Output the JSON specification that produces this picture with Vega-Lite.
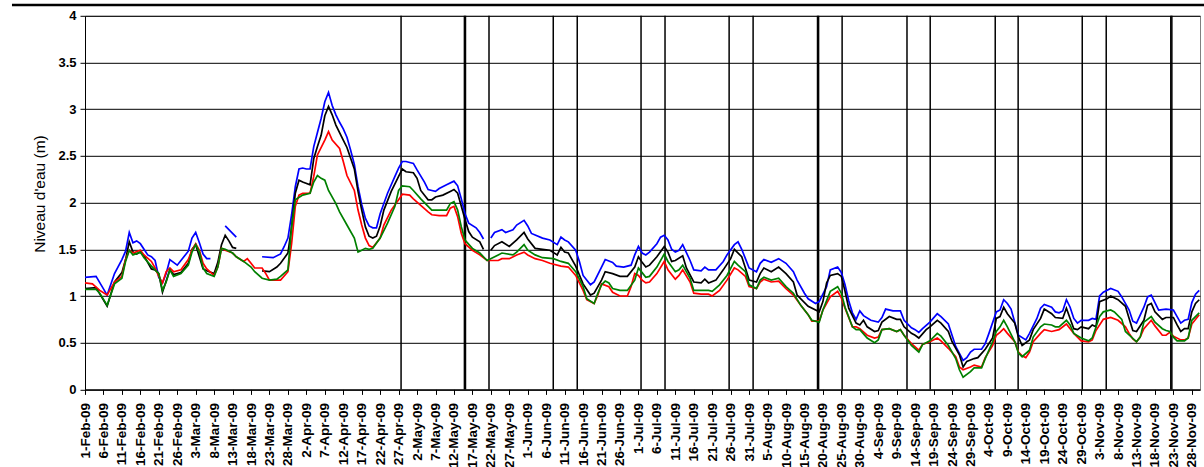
{
"$schema":"https://vega.github.io/schema/vega-lite/v6.json",
"width":1115,"height":373.6,
"autosize":{"type":"none"},
"padding":{"left":85,"top":15.8,"right":4,"bottom":77.6},
"background":"white",
"config":{"view":{"stroke":"#808080","strokeWidth":1},"font":"Liberation Sans"},
"resolve":{"axis":{"x":"independent","y":"independent"}},
"datasets":{
"blue":[
{"d":"2009-02-01","v":1.20},{"d":"2009-02-04","v":1.21},{"d":"2009-02-07","v":1.01},{"d":"2009-02-09","v":1.24},{"d":"2009-02-11","v":1.39},{"d":"2009-02-12","v":1.48},{"d":"2009-02-13","v":1.68},{"d":"2009-02-14","v":1.57},{"d":"2009-02-15","v":1.59},{"d":"2009-02-16","v":1.56},{"d":"2009-02-18","v":1.44},{"d":"2009-02-19","v":1.42},{"d":"2009-02-20","v":1.38},{"d":"2009-02-21","v":1.20},{"d":"2009-02-22","v":1.14},{"d":"2009-02-23","v":1.24},{"d":"2009-02-24","v":1.39},{"d":"2009-02-25","v":1.36},{"d":"2009-02-26","v":1.33},{"d":"2009-02-27","v":1.38},
{"d":"2009-03-01","v":1.48},{"d":"2009-03-02","v":1.62},{"d":"2009-03-03","v":1.68},{"d":"2009-03-04","v":1.57},{"d":"2009-03-05","v":1.45},{"d":"2009-03-06","v":1.40},{"d":"2009-03-07","v":1.40},{"d":"2009-03-09","v":null},{"d":"2009-03-11","v":1.75},{"d":"2009-03-12","v":1.71},{"d":"2009-03-13","v":1.67},{"d":"2009-03-14","v":1.63},{"d":"2009-03-18","v":null},{"d":"2009-03-21","v":1.42},{"d":"2009-03-24","v":1.41},{"d":"2009-03-26","v":1.45},{"d":"2009-03-27","v":1.53},{"d":"2009-03-28","v":1.62},{"d":"2009-03-29","v":1.87},{"d":"2009-03-30","v":2.17},{"d":"2009-03-31","v":2.36},
{"d":"2009-04-01","v":2.37},{"d":"2009-04-02","v":2.36},{"d":"2009-04-03","v":2.36},{"d":"2009-04-04","v":2.60},{"d":"2009-04-05","v":2.75},{"d":"2009-04-06","v":2.90},{"d":"2009-04-07","v":3.08},{"d":"2009-04-08","v":3.18},{"d":"2009-04-09","v":3.04},{"d":"2009-04-10","v":2.94},{"d":"2009-04-11","v":2.86},{"d":"2009-04-12","v":2.79},{"d":"2009-04-13","v":2.70},{"d":"2009-04-14","v":2.56},{"d":"2009-04-15","v":2.41},{"d":"2009-04-16","v":2.17},{"d":"2009-04-17","v":1.98},{"d":"2009-04-18","v":1.83},{"d":"2009-04-19","v":1.75},{"d":"2009-04-20","v":1.73},{"d":"2009-04-21","v":1.73},{"d":"2009-04-22","v":1.88},{"d":"2009-04-24","v":2.10},{"d":"2009-04-26","v":2.28},{"d":"2009-04-27","v":2.37},{"d":"2009-04-28","v":2.44},{"d":"2009-04-29","v":2.44},
{"d":"2009-05-01","v":2.42},{"d":"2009-05-02","v":2.35},{"d":"2009-05-04","v":2.22},{"d":"2009-05-05","v":2.14},{"d":"2009-05-06","v":2.13},{"d":"2009-05-07","v":2.12},{"d":"2009-05-08","v":2.15},{"d":"2009-05-10","v":2.19},{"d":"2009-05-12","v":2.23},{"d":"2009-05-13","v":2.18},{"d":"2009-05-14","v":2.04},{"d":"2009-05-15","v":1.88},{"d":"2009-05-16","v":1.78},{"d":"2009-05-18","v":1.73},{"d":"2009-05-19","v":1.68},{"d":"2009-05-20","v":1.61},{"d":"2009-05-21","v":null},{"d":"2009-05-22","v":1.62},{"d":"2009-05-23","v":1.68},{"d":"2009-05-25","v":1.71},{"d":"2009-05-26","v":1.68},{"d":"2009-05-28","v":1.71},{"d":"2009-05-29","v":1.76},{"d":"2009-05-31","v":1.81},
{"d":"2009-06-01","v":1.75},{"d":"2009-06-02","v":1.67},{"d":"2009-06-05","v":1.62},{"d":"2009-06-07","v":1.60},{"d":"2009-06-09","v":1.55},{"d":"2009-06-10","v":1.63},{"d":"2009-06-11","v":1.60},{"d":"2009-06-12","v":1.58},{"d":"2009-06-14","v":1.49},{"d":"2009-06-15","v":1.37},{"d":"2009-06-16","v":1.22},{"d":"2009-06-18","v":1.12},{"d":"2009-06-19","v":1.15},{"d":"2009-06-21","v":1.31},{"d":"2009-06-22","v":1.39},{"d":"2009-06-24","v":1.36},{"d":"2009-06-25","v":1.32},{"d":"2009-06-27","v":1.31},{"d":"2009-06-29","v":1.33},{"d":"2009-06-30","v":1.44},
{"d":"2009-07-01","v":1.53},{"d":"2009-07-02","v":1.46},{"d":"2009-07-03","v":1.44},{"d":"2009-07-04","v":1.47},{"d":"2009-07-06","v":1.56},{"d":"2009-07-07","v":1.63},{"d":"2009-07-08","v":1.65},{"d":"2009-07-09","v":1.60},{"d":"2009-07-10","v":1.50},{"d":"2009-07-11","v":1.47},{"d":"2009-07-12","v":1.49},{"d":"2009-07-13","v":1.55},{"d":"2009-07-15","v":1.38},{"d":"2009-07-16","v":1.28},{"d":"2009-07-18","v":1.27},{"d":"2009-07-19","v":1.31},{"d":"2009-07-20","v":1.28},{"d":"2009-07-22","v":1.28},{"d":"2009-07-24","v":1.37},{"d":"2009-07-25","v":1.44},{"d":"2009-07-27","v":1.55},{"d":"2009-07-28","v":1.58},{"d":"2009-07-29","v":1.50},{"d":"2009-07-30","v":1.40},{"d":"2009-07-31","v":1.30},
{"d":"2009-08-02","v":1.26},{"d":"2009-08-03","v":1.35},{"d":"2009-08-04","v":1.39},{"d":"2009-08-06","v":1.36},{"d":"2009-08-08","v":1.40},{"d":"2009-08-10","v":1.35},{"d":"2009-08-12","v":1.26},{"d":"2009-08-13","v":1.17},{"d":"2009-08-15","v":1.03},{"d":"2009-08-16","v":0.97},{"d":"2009-08-18","v":0.92},{"d":"2009-08-19","v":0.94},{"d":"2009-08-21","v":1.10},{"d":"2009-08-22","v":1.28},{"d":"2009-08-24","v":1.31},{"d":"2009-08-25","v":1.25},{"d":"2009-08-26","v":1.12},{"d":"2009-08-27","v":0.95},{"d":"2009-08-28","v":0.82},{"d":"2009-08-29","v":0.75},{"d":"2009-08-30","v":0.84},{"d":"2009-08-31","v":0.79},
{"d":"2009-09-02","v":0.74},{"d":"2009-09-04","v":0.72},{"d":"2009-09-05","v":0.77},{"d":"2009-09-06","v":0.86},{"d":"2009-09-08","v":0.84},{"d":"2009-09-10","v":0.84},{"d":"2009-09-11","v":0.74},{"d":"2009-09-13","v":0.66},{"d":"2009-09-14","v":0.64},{"d":"2009-09-15","v":0.61},{"d":"2009-09-16","v":0.65},{"d":"2009-09-18","v":0.72},{"d":"2009-09-20","v":0.81},{"d":"2009-09-21","v":0.78},{"d":"2009-09-23","v":0.70},{"d":"2009-09-24","v":0.58},{"d":"2009-09-25","v":0.46},{"d":"2009-09-27","v":0.31},{"d":"2009-09-28","v":0.34},{"d":"2009-09-29","v":0.40},{"d":"2009-09-30","v":0.43},
{"d":"2009-10-02","v":0.43},{"d":"2009-10-03","v":0.49},{"d":"2009-10-04","v":0.60},{"d":"2009-10-06","v":0.83},{"d":"2009-10-07","v":0.85},{"d":"2009-10-08","v":0.96},{"d":"2009-10-09","v":0.92},{"d":"2009-10-10","v":0.86},{"d":"2009-10-11","v":0.72},{"d":"2009-10-12","v":0.58},{"d":"2009-10-14","v":0.53},{"d":"2009-10-15","v":0.60},{"d":"2009-10-17","v":0.76},{"d":"2009-10-18","v":0.87},{"d":"2009-10-19","v":0.91},{"d":"2009-10-21","v":0.88},{"d":"2009-10-22","v":0.83},{"d":"2009-10-23","v":0.82},{"d":"2009-10-24","v":0.84},{"d":"2009-10-25","v":0.96},{"d":"2009-10-26","v":0.88},{"d":"2009-10-27","v":0.76},{"d":"2009-10-28","v":0.71},{"d":"2009-10-29","v":0.74},{"d":"2009-10-31","v":0.74},
{"d":"2009-11-01","v":0.76},{"d":"2009-11-02","v":0.75},{"d":"2009-11-03","v":1.00},{"d":"2009-11-04","v":1.04},{"d":"2009-11-06","v":1.08},{"d":"2009-11-08","v":1.05},{"d":"2009-11-09","v":0.99},{"d":"2009-11-11","v":0.85},{"d":"2009-11-12","v":0.73},{"d":"2009-11-13","v":0.71},{"d":"2009-11-15","v":0.88},{"d":"2009-11-16","v":0.99},{"d":"2009-11-17","v":1.01},{"d":"2009-11-18","v":0.93},{"d":"2009-11-19","v":0.85},{"d":"2009-11-21","v":0.86},{"d":"2009-11-23","v":0.85},{"d":"2009-11-24","v":0.78},{"d":"2009-11-25","v":0.71},{"d":"2009-11-26","v":0.74},{"d":"2009-11-27","v":0.75},{"d":"2009-11-28","v":0.93},{"d":"2009-11-29","v":1.02},{"d":"2009-11-30","v":1.06}
],
"black":[
{"d":"2009-02-01","v":1.08},{"d":"2009-02-04","v":1.09},{"d":"2009-02-07","v":0.89},{"d":"2009-02-09","v":1.15},{"d":"2009-02-11","v":1.25},{"d":"2009-02-12","v":1.39},{"d":"2009-02-13","v":1.58},{"d":"2009-02-14","v":1.47},{"d":"2009-02-15","v":1.45},{"d":"2009-02-16","v":1.47},{"d":"2009-02-17","v":1.43},{"d":"2009-02-19","v":1.29},{"d":"2009-02-20","v":1.28},{"d":"2009-02-21","v":1.24},{"d":"2009-02-22","v":1.04},{"d":"2009-02-23","v":1.16},{"d":"2009-02-24","v":1.28},{"d":"2009-02-25","v":1.23},{"d":"2009-02-27","v":1.25},
{"d":"2009-03-01","v":1.35},{"d":"2009-03-02","v":1.50},{"d":"2009-03-03","v":1.55},{"d":"2009-03-04","v":1.42},{"d":"2009-03-05","v":1.29},{"d":"2009-03-06","v":1.27},{"d":"2009-03-08","v":1.24},{"d":"2009-03-09","v":1.36},{"d":"2009-03-10","v":1.55},{"d":"2009-03-11","v":1.65},{"d":"2009-03-12","v":1.59},{"d":"2009-03-13","v":1.52},{"d":"2009-03-14","v":1.51},{"d":"2009-03-18","v":null},{"d":"2009-03-21","v":1.27},{"d":"2009-03-23","v":1.26},{"d":"2009-03-25","v":1.31},{"d":"2009-03-26","v":1.35},{"d":"2009-03-28","v":1.46},{"d":"2009-03-29","v":1.74},{"d":"2009-03-30","v":2.10},{"d":"2009-03-31","v":2.24},
{"d":"2009-04-01","v":2.22},{"d":"2009-04-03","v":2.19},{"d":"2009-04-04","v":2.47},{"d":"2009-04-05","v":2.60},{"d":"2009-04-06","v":2.72},{"d":"2009-04-07","v":2.93},{"d":"2009-04-08","v":3.03},{"d":"2009-04-09","v":2.94},{"d":"2009-04-10","v":2.83},{"d":"2009-04-12","v":2.67},{"d":"2009-04-13","v":2.59},{"d":"2009-04-15","v":2.36},{"d":"2009-04-16","v":2.12},{"d":"2009-04-17","v":1.92},{"d":"2009-04-18","v":1.74},{"d":"2009-04-19","v":1.64},{"d":"2009-04-20","v":1.62},{"d":"2009-04-21","v":1.64},{"d":"2009-04-22","v":1.75},{"d":"2009-04-23","v":1.92},{"d":"2009-04-25","v":2.12},{"d":"2009-04-27","v":2.28},{"d":"2009-04-28","v":2.36},{"d":"2009-04-29","v":2.33},
{"d":"2009-05-01","v":2.32},{"d":"2009-05-02","v":2.26},{"d":"2009-05-03","v":2.13},{"d":"2009-05-05","v":2.03},{"d":"2009-05-06","v":2.03},{"d":"2009-05-07","v":2.06},{"d":"2009-05-09","v":2.08},{"d":"2009-05-11","v":2.12},{"d":"2009-05-12","v":2.14},{"d":"2009-05-13","v":2.10},{"d":"2009-05-14","v":1.96},{"d":"2009-05-15","v":1.82},{"d":"2009-05-16","v":1.69},{"d":"2009-05-17","v":1.63},{"d":"2009-05-19","v":1.58},{"d":"2009-05-20","v":1.50},{"d":"2009-05-21","v":null},{"d":"2009-05-22","v":1.49},{"d":"2009-05-23","v":1.54},{"d":"2009-05-25","v":1.58},{"d":"2009-05-27","v":1.53},{"d":"2009-05-29","v":1.60},{"d":"2009-05-31","v":1.68},
{"d":"2009-06-01","v":1.61},{"d":"2009-06-03","v":1.51},{"d":"2009-06-05","v":1.50},{"d":"2009-06-07","v":1.49},{"d":"2009-06-09","v":1.44},{"d":"2009-06-10","v":1.52},{"d":"2009-06-11","v":1.47},{"d":"2009-06-12","v":1.46},{"d":"2009-06-14","v":1.32},{"d":"2009-06-16","v":1.13},{"d":"2009-06-18","v":1.01},{"d":"2009-06-19","v":1.03},{"d":"2009-06-21","v":1.17},{"d":"2009-06-22","v":1.26},{"d":"2009-06-24","v":1.24},{"d":"2009-06-26","v":1.21},{"d":"2009-06-28","v":1.21},{"d":"2009-06-30","v":1.31},
{"d":"2009-07-01","v":1.42},{"d":"2009-07-02","v":1.36},{"d":"2009-07-03","v":1.31},{"d":"2009-07-04","v":1.33},{"d":"2009-07-06","v":1.42},{"d":"2009-07-08","v":1.53},{"d":"2009-07-09","v":1.47},{"d":"2009-07-10","v":1.37},{"d":"2009-07-11","v":1.38},{"d":"2009-07-13","v":1.43},{"d":"2009-07-14","v":1.30},{"d":"2009-07-16","v":1.15},{"d":"2009-07-18","v":1.14},{"d":"2009-07-19","v":1.18},{"d":"2009-07-20","v":1.14},{"d":"2009-07-22","v":1.17},{"d":"2009-07-24","v":1.28},{"d":"2009-07-26","v":1.40},{"d":"2009-07-27","v":1.50},{"d":"2009-07-29","v":1.42},{"d":"2009-07-30","v":1.30},{"d":"2009-07-31","v":1.17},
{"d":"2009-08-02","v":1.15},{"d":"2009-08-03","v":1.24},{"d":"2009-08-04","v":1.30},{"d":"2009-08-06","v":1.26},{"d":"2009-08-08","v":1.31},{"d":"2009-08-10","v":1.24},{"d":"2009-08-12","v":1.15},{"d":"2009-08-13","v":1.01},{"d":"2009-08-16","v":0.89},{"d":"2009-08-19","v":0.83},{"d":"2009-08-20","v":0.94},{"d":"2009-08-21","v":1.14},{"d":"2009-08-22","v":1.22},{"d":"2009-08-24","v":1.24},{"d":"2009-08-25","v":1.21},{"d":"2009-08-26","v":1.05},{"d":"2009-08-27","v":0.87},{"d":"2009-08-29","v":0.71},{"d":"2009-08-30","v":0.69},{"d":"2009-08-31","v":0.74},
{"d":"2009-09-01","v":0.67},{"d":"2009-09-03","v":0.62},{"d":"2009-09-04","v":0.63},{"d":"2009-09-05","v":0.72},{"d":"2009-09-07","v":0.78},{"d":"2009-09-09","v":0.75},{"d":"2009-09-10","v":0.75},{"d":"2009-09-11","v":0.67},{"d":"2009-09-13","v":0.60},{"d":"2009-09-14","v":0.58},{"d":"2009-09-15","v":0.55},{"d":"2009-09-17","v":0.64},{"d":"2009-09-18","v":0.67},{"d":"2009-09-20","v":0.74},{"d":"2009-09-21","v":0.71},{"d":"2009-09-23","v":0.62},{"d":"2009-09-24","v":0.51},{"d":"2009-09-26","v":0.37},{"d":"2009-09-27","v":0.24},{"d":"2009-09-28","v":0.30},{"d":"2009-09-30","v":0.33},
{"d":"2009-10-01","v":0.34},{"d":"2009-10-03","v":0.43},{"d":"2009-10-05","v":0.55},{"d":"2009-10-06","v":0.76},{"d":"2009-10-07","v":0.78},{"d":"2009-10-08","v":0.88},{"d":"2009-10-09","v":0.81},{"d":"2009-10-11","v":0.71},{"d":"2009-10-12","v":0.56},{"d":"2009-10-13","v":0.47},{"d":"2009-10-15","v":0.53},{"d":"2009-10-16","v":0.64},{"d":"2009-10-18","v":0.76},{"d":"2009-10-19","v":0.86},{"d":"2009-10-21","v":0.81},{"d":"2009-10-22","v":0.77},{"d":"2009-10-24","v":0.76},{"d":"2009-10-25","v":0.87},{"d":"2009-10-26","v":0.76},{"d":"2009-10-27","v":0.65},{"d":"2009-10-28","v":0.64},{"d":"2009-10-29","v":0.67},{"d":"2009-10-31","v":0.65},
{"d":"2009-11-01","v":0.69},{"d":"2009-11-02","v":0.67},{"d":"2009-11-03","v":0.94},{"d":"2009-11-05","v":0.97},{"d":"2009-11-06","v":1.00},{"d":"2009-11-08","v":0.96},{"d":"2009-11-10","v":0.89},{"d":"2009-11-11","v":0.76},{"d":"2009-11-12","v":0.63},{"d":"2009-11-13","v":0.62},{"d":"2009-11-15","v":0.74},{"d":"2009-11-16","v":0.90},{"d":"2009-11-17","v":0.92},{"d":"2009-11-18","v":0.83},{"d":"2009-11-20","v":0.75},{"d":"2009-11-21","v":0.77},{"d":"2009-11-23","v":0.77},{"d":"2009-11-24","v":0.69},{"d":"2009-11-25","v":0.62},{"d":"2009-11-26","v":0.65},{"d":"2009-11-27","v":0.65},{"d":"2009-11-28","v":0.83},{"d":"2009-11-29","v":0.92},{"d":"2009-11-30","v":0.96}
],
"red":[
{"d":"2009-02-01","v":1.14},{"d":"2009-02-03","v":1.13},{"d":"2009-02-05","v":1.06},{"d":"2009-02-07","v":1.01},{"d":"2009-02-09","v":1.15},{"d":"2009-02-11","v":1.21},{"d":"2009-02-12","v":1.39},{"d":"2009-02-13","v":1.49},{"d":"2009-02-14","v":1.46},{"d":"2009-02-16","v":1.49},{"d":"2009-02-17","v":1.44},{"d":"2009-02-19","v":1.37},{"d":"2009-02-20","v":1.30},{"d":"2009-02-21","v":1.21},{"d":"2009-02-22","v":1.14},{"d":"2009-02-23","v":1.26},{"d":"2009-02-24","v":1.30},{"d":"2009-02-25","v":1.26},{"d":"2009-02-27","v":1.28},
{"d":"2009-03-01","v":1.39},{"d":"2009-03-02","v":1.49},{"d":"2009-03-03","v":1.56},{"d":"2009-03-04","v":1.49},{"d":"2009-03-05","v":1.35},{"d":"2009-03-06","v":1.29},{"d":"2009-03-08","v":1.22},{"d":"2009-03-09","v":1.31},{"d":"2009-03-10","v":1.51},{"d":"2009-03-11","v":1.49},{"d":"2009-03-13","v":1.46},{"d":"2009-03-14","v":1.42},{"d":"2009-03-16","v":1.37},{"d":"2009-03-17","v":1.40},{"d":"2009-03-18","v":1.35},{"d":"2009-03-19","v":1.30},{"d":"2009-03-21","v":1.30},{"d":"2009-03-22","v":1.24},{"d":"2009-03-23","v":1.17},{"d":"2009-03-25","v":1.17},{"d":"2009-03-26","v":1.17},{"d":"2009-03-28","v":1.26},{"d":"2009-03-29","v":1.56},{"d":"2009-03-30","v":1.96},{"d":"2009-03-31","v":2.08},
{"d":"2009-04-01","v":2.10},{"d":"2009-04-03","v":2.10},{"d":"2009-04-04","v":2.28},{"d":"2009-04-05","v":2.51},{"d":"2009-04-07","v":2.67},{"d":"2009-04-08","v":2.76},{"d":"2009-04-09","v":2.67},{"d":"2009-04-11","v":2.58},{"d":"2009-04-12","v":2.44},{"d":"2009-04-13","v":2.29},{"d":"2009-04-15","v":2.13},{"d":"2009-04-16","v":1.92},{"d":"2009-04-17","v":1.76},{"d":"2009-04-18","v":1.62},{"d":"2009-04-19","v":1.54},{"d":"2009-04-20","v":1.52},{"d":"2009-04-22","v":1.62},{"d":"2009-04-23","v":1.76},{"d":"2009-04-25","v":1.92},{"d":"2009-04-27","v":2.03},{"d":"2009-04-28","v":2.09},{"d":"2009-04-30","v":2.08},
{"d":"2009-05-01","v":2.04},{"d":"2009-05-03","v":1.97},{"d":"2009-05-05","v":1.90},{"d":"2009-05-06","v":1.87},{"d":"2009-05-08","v":1.86},{"d":"2009-05-10","v":1.86},{"d":"2009-05-11","v":1.94},{"d":"2009-05-12","v":1.96},{"d":"2009-05-13","v":1.85},{"d":"2009-05-14","v":1.67},{"d":"2009-05-15","v":1.56},{"d":"2009-05-17","v":1.49},{"d":"2009-05-19","v":1.44},{"d":"2009-05-21","v":1.38},{"d":"2009-05-24","v":1.38},{"d":"2009-05-25","v":1.40},{"d":"2009-05-27","v":1.40},{"d":"2009-05-29","v":1.44},{"d":"2009-05-31","v":1.47},
{"d":"2009-06-01","v":1.44},{"d":"2009-06-03","v":1.40},{"d":"2009-06-05","v":1.38},{"d":"2009-06-07","v":1.35},{"d":"2009-06-10","v":1.32},{"d":"2009-06-12","v":1.31},{"d":"2009-06-14","v":1.22},{"d":"2009-06-16","v":1.06},{"d":"2009-06-17","v":0.96},{"d":"2009-06-19","v":0.92},{"d":"2009-06-20","v":1.01},{"d":"2009-06-21","v":1.13},{"d":"2009-06-23","v":1.10},{"d":"2009-06-24","v":1.04},{"d":"2009-06-26","v":1.00},{"d":"2009-06-28","v":1.00},{"d":"2009-06-29","v":1.10},{"d":"2009-06-30","v":1.24},
{"d":"2009-07-01","v":1.22},{"d":"2009-07-02","v":1.17},{"d":"2009-07-03","v":1.14},{"d":"2009-07-04","v":1.15},{"d":"2009-07-06","v":1.24},{"d":"2009-07-08","v":1.37},{"d":"2009-07-09","v":1.28},{"d":"2009-07-11","v":1.18},{"d":"2009-07-12","v":1.22},{"d":"2009-07-13","v":1.28},{"d":"2009-07-15","v":1.15},{"d":"2009-07-16","v":1.03},{"d":"2009-07-18","v":1.02},{"d":"2009-07-20","v":1.02},{"d":"2009-07-21","v":1.00},{"d":"2009-07-23","v":1.06},{"d":"2009-07-25","v":1.17},{"d":"2009-07-27","v":1.30},{"d":"2009-07-28","v":1.28},{"d":"2009-07-30","v":1.21},{"d":"2009-07-31","v":1.10},
{"d":"2009-08-02","v":1.08},{"d":"2009-08-03","v":1.15},{"d":"2009-08-04","v":1.18},{"d":"2009-08-06","v":1.15},{"d":"2009-08-08","v":1.16},{"d":"2009-08-10","v":1.08},{"d":"2009-08-12","v":1.01},{"d":"2009-08-14","v":0.90},{"d":"2009-08-16","v":0.80},{"d":"2009-08-17","v":0.73},{"d":"2009-08-19","v":0.73},{"d":"2009-08-20","v":0.85},{"d":"2009-08-22","v":0.99},{"d":"2009-08-24","v":1.05},{"d":"2009-08-25","v":0.98},{"d":"2009-08-26","v":0.87},{"d":"2009-08-28","v":0.67},{"d":"2009-08-29","v":0.67},{"d":"2009-08-30","v":0.65},
{"d":"2009-09-01","v":0.58},{"d":"2009-09-03","v":0.55},{"d":"2009-09-04","v":0.56},{"d":"2009-09-05","v":0.64},{"d":"2009-09-07","v":0.65},{"d":"2009-09-09","v":0.62},{"d":"2009-09-10","v":0.64},{"d":"2009-09-11","v":0.58},{"d":"2009-09-13","v":0.49},{"d":"2009-09-15","v":0.42},{"d":"2009-09-16","v":0.48},{"d":"2009-09-18","v":0.51},{"d":"2009-09-20","v":0.55},{"d":"2009-09-21","v":0.52},{"d":"2009-09-23","v":0.44},{"d":"2009-09-25","v":0.35},{"d":"2009-09-26","v":0.24},{"d":"2009-09-27","v":0.21},{"d":"2009-09-29","v":0.24},{"d":"2009-09-30","v":0.26},
{"d":"2009-10-02","v":0.24},{"d":"2009-10-03","v":0.34},{"d":"2009-10-05","v":0.47},{"d":"2009-10-06","v":0.58},{"d":"2009-10-07","v":0.61},{"d":"2009-10-08","v":0.65},{"d":"2009-10-09","v":0.60},{"d":"2009-10-11","v":0.51},{"d":"2009-10-12","v":0.40},{"d":"2009-10-13","v":0.36},{"d":"2009-10-14","v":0.34},{"d":"2009-10-15","v":0.40},{"d":"2009-10-16","v":0.51},{"d":"2009-10-18","v":0.60},{"d":"2009-10-19","v":0.64},{"d":"2009-10-21","v":0.62},{"d":"2009-10-23","v":0.64},{"d":"2009-10-25","v":0.70},{"d":"2009-10-26","v":0.65},{"d":"2009-10-27","v":0.60},{"d":"2009-10-28","v":0.56},{"d":"2009-10-29","v":0.52},{"d":"2009-10-31","v":0.51},
{"d":"2009-11-01","v":0.53},{"d":"2009-11-02","v":0.63},{"d":"2009-11-04","v":0.75},{"d":"2009-11-06","v":0.77},{"d":"2009-11-08","v":0.74},{"d":"2009-11-10","v":0.67},{"d":"2009-11-11","v":0.60},{"d":"2009-11-12","v":0.54},{"d":"2009-11-13","v":0.51},{"d":"2009-11-14","v":0.56},{"d":"2009-11-15","v":0.65},{"d":"2009-11-17","v":0.74},{"d":"2009-11-18","v":0.68},{"d":"2009-11-20","v":0.58},{"d":"2009-11-21","v":0.58},{"d":"2009-11-22","v":0.61},{"d":"2009-11-23","v":0.57},{"d":"2009-11-25","v":0.53},{"d":"2009-11-26","v":0.53},{"d":"2009-11-27","v":0.55},{"d":"2009-11-28","v":0.70},{"d":"2009-11-30","v":0.80}
],
"green":[
{"d":"2009-02-01","v":1.07},{"d":"2009-02-04","v":1.07},{"d":"2009-02-05","v":1.03},{"d":"2009-02-07","v":0.90},{"d":"2009-02-09","v":1.13},{"d":"2009-02-11","v":1.19},{"d":"2009-02-12","v":1.37},{"d":"2009-02-13","v":1.49},{"d":"2009-02-14","v":1.44},{"d":"2009-02-16","v":1.47},{"d":"2009-02-17","v":1.41},{"d":"2009-02-19","v":1.32},{"d":"2009-02-20","v":1.28},{"d":"2009-02-21","v":1.24},{"d":"2009-02-22","v":1.06},{"d":"2009-02-23","v":1.15},{"d":"2009-02-24","v":1.28},{"d":"2009-02-25","v":1.21},{"d":"2009-02-27","v":1.24},
{"d":"2009-03-01","v":1.33},{"d":"2009-03-02","v":1.47},{"d":"2009-03-03","v":1.55},{"d":"2009-03-04","v":1.47},{"d":"2009-03-05","v":1.30},{"d":"2009-03-06","v":1.24},{"d":"2009-03-08","v":1.21},{"d":"2009-03-09","v":1.31},{"d":"2009-03-10","v":1.51},{"d":"2009-03-11","v":1.50},{"d":"2009-03-13","v":1.46},{"d":"2009-03-14","v":1.42},{"d":"2009-03-16","v":1.37},{"d":"2009-03-18","v":1.31},{"d":"2009-03-19","v":1.26},{"d":"2009-03-21","v":1.19},{"d":"2009-03-23","v":1.17},{"d":"2009-03-25","v":1.18},{"d":"2009-03-26","v":1.21},{"d":"2009-03-28","v":1.28},{"d":"2009-03-29","v":1.74},{"d":"2009-03-30","v":2.03},
{"d":"2009-04-01","v":2.08},{"d":"2009-04-03","v":2.10},{"d":"2009-04-04","v":2.22},{"d":"2009-04-05","v":2.29},{"d":"2009-04-06","v":2.26},{"d":"2009-04-07","v":2.24},{"d":"2009-04-08","v":2.13},{"d":"2009-04-10","v":1.99},{"d":"2009-04-11","v":1.90},{"d":"2009-04-13","v":1.76},{"d":"2009-04-15","v":1.62},{"d":"2009-04-16","v":1.47},{"d":"2009-04-17","v":1.49},{"d":"2009-04-18","v":1.51},{"d":"2009-04-19","v":1.50},{"d":"2009-04-20","v":1.51},{"d":"2009-04-22","v":1.62},{"d":"2009-04-24","v":1.78},{"d":"2009-04-26","v":1.96},{"d":"2009-04-27","v":2.13},{"d":"2009-04-28","v":2.18},{"d":"2009-04-30","v":2.17},
{"d":"2009-05-01","v":2.13},{"d":"2009-05-03","v":2.04},{"d":"2009-05-05","v":1.96},{"d":"2009-05-06","v":1.92},{"d":"2009-05-09","v":1.92},{"d":"2009-05-10","v":1.92},{"d":"2009-05-11","v":1.99},{"d":"2009-05-12","v":2.01},{"d":"2009-05-13","v":1.92},{"d":"2009-05-14","v":1.74},{"d":"2009-05-15","v":1.60},{"d":"2009-05-17","v":1.51},{"d":"2009-05-19","v":1.46},{"d":"2009-05-21","v":1.38},{"d":"2009-05-24","v":1.44},{"d":"2009-05-25","v":1.46},{"d":"2009-05-28","v":1.44},{"d":"2009-05-29","v":1.47},{"d":"2009-05-31","v":1.55},
{"d":"2009-06-01","v":1.49},{"d":"2009-06-03","v":1.44},{"d":"2009-06-05","v":1.41},{"d":"2009-06-08","v":1.40},{"d":"2009-06-10","v":1.37},{"d":"2009-06-12","v":1.35},{"d":"2009-06-14","v":1.26},{"d":"2009-06-16","v":1.10},{"d":"2009-06-17","v":0.97},{"d":"2009-06-19","v":0.92},{"d":"2009-06-20","v":1.03},{"d":"2009-06-21","v":1.12},{"d":"2009-06-22","v":1.16},{"d":"2009-06-23","v":1.14},{"d":"2009-06-24","v":1.08},{"d":"2009-06-26","v":1.06},{"d":"2009-06-28","v":1.06},{"d":"2009-06-30","v":1.17},
{"d":"2009-07-01","v":1.30},{"d":"2009-07-02","v":1.25},{"d":"2009-07-03","v":1.20},{"d":"2009-07-04","v":1.21},{"d":"2009-07-06","v":1.31},{"d":"2009-07-08","v":1.45},{"d":"2009-07-09","v":1.37},{"d":"2009-07-11","v":1.26},{"d":"2009-07-12","v":1.28},{"d":"2009-07-13","v":1.33},{"d":"2009-07-15","v":1.19},{"d":"2009-07-16","v":1.06},{"d":"2009-07-18","v":1.06},{"d":"2009-07-20","v":1.06},{"d":"2009-07-21","v":1.05},{"d":"2009-07-23","v":1.12},{"d":"2009-07-25","v":1.22},{"d":"2009-07-27","v":1.37},{"d":"2009-07-28","v":1.33},{"d":"2009-07-30","v":1.26},{"d":"2009-07-31","v":1.12},
{"d":"2009-08-02","v":1.08},{"d":"2009-08-03","v":1.17},{"d":"2009-08-04","v":1.20},{"d":"2009-08-06","v":1.17},{"d":"2009-08-08","v":1.19},{"d":"2009-08-10","v":1.10},{"d":"2009-08-12","v":1.03},{"d":"2009-08-14","v":0.90},{"d":"2009-08-16","v":0.80},{"d":"2009-08-17","v":0.74},{"d":"2009-08-19","v":0.72},{"d":"2009-08-20","v":0.85},{"d":"2009-08-22","v":1.05},{"d":"2009-08-24","v":1.10},{"d":"2009-08-25","v":1.03},{"d":"2009-08-26","v":0.88},{"d":"2009-08-28","v":0.67},{"d":"2009-08-29","v":0.64},{"d":"2009-08-30","v":0.64},
{"d":"2009-09-01","v":0.55},{"d":"2009-09-03","v":0.50},{"d":"2009-09-04","v":0.53},{"d":"2009-09-05","v":0.64},{"d":"2009-09-07","v":0.65},{"d":"2009-09-09","v":0.62},{"d":"2009-09-10","v":0.64},{"d":"2009-09-11","v":0.58},{"d":"2009-09-13","v":0.47},{"d":"2009-09-15","v":0.40},{"d":"2009-09-16","v":0.48},{"d":"2009-09-18","v":0.52},{"d":"2009-09-20","v":0.60},{"d":"2009-09-21","v":0.57},{"d":"2009-09-23","v":0.47},{"d":"2009-09-25","v":0.33},{"d":"2009-09-26","v":0.21},{"d":"2009-09-27","v":0.13},{"d":"2009-09-29","v":0.19},{"d":"2009-09-30","v":0.23},
{"d":"2009-10-02","v":0.23},{"d":"2009-10-03","v":0.33},{"d":"2009-10-05","v":0.51},{"d":"2009-10-06","v":0.62},{"d":"2009-10-07","v":0.67},{"d":"2009-10-08","v":0.74},{"d":"2009-10-09","v":0.67},{"d":"2009-10-11","v":0.51},{"d":"2009-10-12","v":0.39},{"d":"2009-10-13","v":0.35},{"d":"2009-10-15","v":0.42},{"d":"2009-10-16","v":0.56},{"d":"2009-10-18","v":0.67},{"d":"2009-10-19","v":0.70},{"d":"2009-10-21","v":0.69},{"d":"2009-10-22","v":0.67},{"d":"2009-10-23","v":0.67},{"d":"2009-10-25","v":0.74},{"d":"2009-10-26","v":0.69},{"d":"2009-10-27","v":0.60},{"d":"2009-10-29","v":0.55},{"d":"2009-10-31","v":0.52},
{"d":"2009-11-01","v":0.55},{"d":"2009-11-03","v":0.78},{"d":"2009-11-04","v":0.83},{"d":"2009-11-06","v":0.85},{"d":"2009-11-07","v":0.83},{"d":"2009-11-09","v":0.75},{"d":"2009-11-10","v":0.62},{"d":"2009-11-13","v":0.51},{"d":"2009-11-14","v":0.56},{"d":"2009-11-15","v":0.72},{"d":"2009-11-17","v":0.78},{"d":"2009-11-18","v":0.72},{"d":"2009-11-20","v":0.65},{"d":"2009-11-21","v":0.63},{"d":"2009-11-22","v":0.62},{"d":"2009-11-23","v":0.56},{"d":"2009-11-24","v":0.52},{"d":"2009-11-26","v":0.52},{"d":"2009-11-27","v":0.55},{"d":"2009-11-28","v":0.74},{"d":"2009-11-30","v":0.82}
],
"passes":[
{"t":"2009-04-27 16:00"},{"t":"2009-05-14 20:00"},{"t":"2009-05-15 03:00"},{"t":"2009-05-21 12:00"},{"t":"2009-06-07 22:00"},{"t":"2009-06-14 10:00"},{"t":"2009-07-01 17:00"},{"t":"2009-07-08 05:00"},{"t":"2009-07-25 14:00"},{"t":"2009-08-01 02:00"},{"t":"2009-08-18 13:00"},{"t":"2009-08-18 20:00"},{"t":"2009-08-25 05:00"},{"t":"2009-09-11 19:00"},{"t":"2009-09-18 02:00"},{"t":"2009-10-05 17:00"},{"t":"2009-10-11 22:00"},{"t":"2009-10-29 07:00"},{"t":"2009-11-04 19:00"},{"t":"2009-11-22 07:00"},{"t":"2009-11-22 14:00"}
]
},
"layer":[
{
"data":{"name":"passes","format":{"parse":{"t":"date:'%Y-%m-%d %H:%M'"}}},
"mark":{"type":"rule","color":"#000000","strokeWidth":1.5},
"encoding":{
"x":{"field":"t","type":"temporal",
"scale":{"domain":[{"year":2009,"month":2,"date":1},{"year":2009,"month":11,"date":30,"hours":5}]},
"axis":{"values":[
{"year":2009,"month":2,"date":1},{"year":2009,"month":2,"date":6},{"year":2009,"month":2,"date":11},{"year":2009,"month":2,"date":16},{"year":2009,"month":2,"date":21},{"year":2009,"month":2,"date":26},
{"year":2009,"month":3,"date":3},{"year":2009,"month":3,"date":8},{"year":2009,"month":3,"date":13},{"year":2009,"month":3,"date":18},{"year":2009,"month":3,"date":23},{"year":2009,"month":3,"date":28},
{"year":2009,"month":4,"date":2},{"year":2009,"month":4,"date":7},{"year":2009,"month":4,"date":12},{"year":2009,"month":4,"date":17},{"year":2009,"month":4,"date":22},{"year":2009,"month":4,"date":27},
{"year":2009,"month":5,"date":2},{"year":2009,"month":5,"date":7},{"year":2009,"month":5,"date":12},{"year":2009,"month":5,"date":17},{"year":2009,"month":5,"date":22},{"year":2009,"month":5,"date":27},
{"year":2009,"month":6,"date":1},{"year":2009,"month":6,"date":6},{"year":2009,"month":6,"date":11},{"year":2009,"month":6,"date":16},{"year":2009,"month":6,"date":21},{"year":2009,"month":6,"date":26},
{"year":2009,"month":7,"date":1},{"year":2009,"month":7,"date":6},{"year":2009,"month":7,"date":11},{"year":2009,"month":7,"date":16},{"year":2009,"month":7,"date":21},{"year":2009,"month":7,"date":26},{"year":2009,"month":7,"date":31},
{"year":2009,"month":8,"date":5},{"year":2009,"month":8,"date":10},{"year":2009,"month":8,"date":15},{"year":2009,"month":8,"date":20},{"year":2009,"month":8,"date":25},{"year":2009,"month":8,"date":30},
{"year":2009,"month":9,"date":4},{"year":2009,"month":9,"date":9},{"year":2009,"month":9,"date":14},{"year":2009,"month":9,"date":19},{"year":2009,"month":9,"date":24},{"year":2009,"month":9,"date":29},
{"year":2009,"month":10,"date":4},{"year":2009,"month":10,"date":9},{"year":2009,"month":10,"date":14},{"year":2009,"month":10,"date":19},{"year":2009,"month":10,"date":24},{"year":2009,"month":10,"date":29},
{"year":2009,"month":11,"date":3},{"year":2009,"month":11,"date":8},{"year":2009,"month":11,"date":13},{"year":2009,"month":11,"date":18},{"year":2009,"month":11,"date":23},{"year":2009,"month":11,"date":28}],
"format":"%-d-%b-%y","labelAngle":-90,"labelFlush":false,"labelOverlap":false,"labelBound":false,
"tickSize":5,"tickColor":"#000000","domainColor":"#000000","domainWidth":1,
"labelPadding":8,"labelColor":"#000000","labelFont":"Liberation Sans","labelFontSize":13.5,"labelFontWeight":"bold",
"grid":false,"title":null}}
}
},
{
"data":{"name":"blue","format":{"parse":{"d":"date:'%Y-%m-%d'"}}},
"mark":{"type":"line","color":"#0000ff","strokeWidth":1.7,"invalid":"break-paths-filter-domains"},
"encoding":{
"x":{"field":"d","type":"temporal","axis":null},
"y":{"field":"v","type":"quantitative","scale":{"domain":[0,4],"nice":false,"zero":false},
"axis":{"values":[0,0.5,1,1.5,2,2.5,3,3.5,4],"format":".1~f","grid":true,"gridColor":"#000000","gridWidth":1,
"tickSize":5,"tickColor":"#000000","domainColor":"#000000","labelPadding":4,"labelColor":"#000000",
"labelFont":"Liberation Sans","labelFontSize":13,"labelFontWeight":"bold",
"title":"Niveau d'eau (m)","titleFont":"Liberation Sans","titleFontSize":15.5,"titleFontWeight":"normal","titleColor":"#000000",
"titleX":-46,"titleY":177.7,"titleAngle":270,"titleAlign":"center","titleBaseline":"middle"}}
}
},
{
"data":{"name":"black","format":{"parse":{"d":"date:'%Y-%m-%d'"}}},
"mark":{"type":"line","color":"#000000","strokeWidth":1.7,"invalid":"break-paths-filter-domains"},
"encoding":{"x":{"field":"d","type":"temporal","axis":null},"y":{"field":"v","type":"quantitative","axis":null}}
},
{
"data":{"name":"red","format":{"parse":{"d":"date:'%Y-%m-%d'"}}},
"mark":{"type":"line","color":"#ff0000","strokeWidth":1.7},
"encoding":{"x":{"field":"d","type":"temporal","axis":null},"y":{"field":"v","type":"quantitative","axis":null}}
},
{
"data":{"name":"green","format":{"parse":{"d":"date:'%Y-%m-%d'"}}},
"mark":{"type":"line","color":"#008000","strokeWidth":1.7},
"encoding":{"x":{"field":"d","type":"temporal","axis":null},"y":{"field":"v","type":"quantitative","axis":null}}
},
{
"data":{"values":[{}]},
"mark":{"type":"rule","color":"#000000","strokeWidth":2.5,"clip":false},
"encoding":{
"x":{"datum":{"year":2009,"month":1,"date":12,"hours":5},"type":"temporal","axis":null},
"x2":{"datum":{"year":2009,"month":12,"date":1,"hours":7}},
"y":{"datum":4.115,"type":"quantitative","axis":null}
}
}
]
}
